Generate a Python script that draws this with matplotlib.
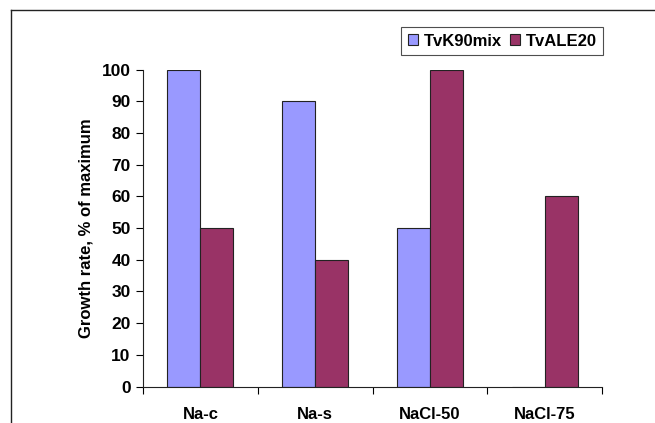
import matplotlib
matplotlib.use("Agg")
import matplotlib.pyplot as plt
import numpy as np
from matplotlib.lines import Line2D

categories = ["Na-c", "Na-s", "NaCl-50", "NaCl-75"]
series_names = ["TvK90mix", "TvALE20"]
tvk90mix = [100, 90, 50, 0]
tvale20 = [50, 40, 100, 60]
yticks = [0, 10, 20, 30, 40, 50, 60, 70, 80, 90, 100]

plt.rcParams['font.family'] = ['Liberation Sans', 'DejaVu Sans']
plt.rcParams['font.weight'] = 'bold'

fig = plt.figure(figsize=(6.55, 4.23), dpi=100)
ax = fig.add_axes([143/655, 1-386.5/423, (602-143)/655, (386.5-69.5)/423])

x = np.arange(len(categories))
w = 0.287
ax.bar(x - w/2, tvk90mix, w, color="#9999FF", edgecolor="#222222", linewidth=0.8, label=series_names[0])
ax.bar(x + w/2, tvale20, w, color="#993366", edgecolor="#222222", linewidth=0.8, label=series_names[1])

ax.set_xlim(-0.5, len(categories) - 0.5)
ax.set_ylim(0, 100)
ax.set_yticks(yticks)
ax.set_yticklabels([str(v) for v in yticks], fontsize=12.5, fontweight='bold')
ax.set_xticks(np.arange(len(categories) + 1) - 0.5)
ax.set_xticklabels([])
ax.set_xticks(x, minor=True)
ax.set_xticklabels(categories, minor=True, fontsize=12, fontweight='bold')
ax.tick_params(axis='x', which='minor', length=0, pad=15)
ax.tick_params(axis='x', which='major', length=5, width=0.8, direction='out')
ax.tick_params(axis='y', length=5, width=0.8, direction='out', pad=4)

for s in ['top', 'right']:
    ax.spines[s].set_visible(False)
for s in ['left', 'bottom']:
    ax.spines[s].set_linewidth(0.8)
    ax.spines[s].set_color('#222222')

ax.set_ylabel("Growth rate, % of maximum", fontsize=12, fontweight='bold', labelpad=6)

leg = fig.legend(loc='upper left', bbox_to_anchor=(401/655, 1-27/423), ncol=2,
                 frameon=True, fancybox=False, fontsize=12, handlelength=0.6,
                 handleheight=0.6, handletextpad=0.35, columnspacing=0.5,
                 borderpad=0.4, borderaxespad=0)
leg.get_frame().set_edgecolor('#222222')
leg.get_frame().set_linewidth(0.8)
for t in leg.get_texts():
    t.set_fontweight('bold')

fig.add_artist(Line2D([11/655, 11/655], [0, 1-10/423], transform=fig.transFigure, color='#222222', linewidth=1))
fig.add_artist(Line2D([11/655, 1], [1-10/423, 1-10/423], transform=fig.transFigure, color='#222222', linewidth=1))

fig.savefig("out.png", dpi=100)
